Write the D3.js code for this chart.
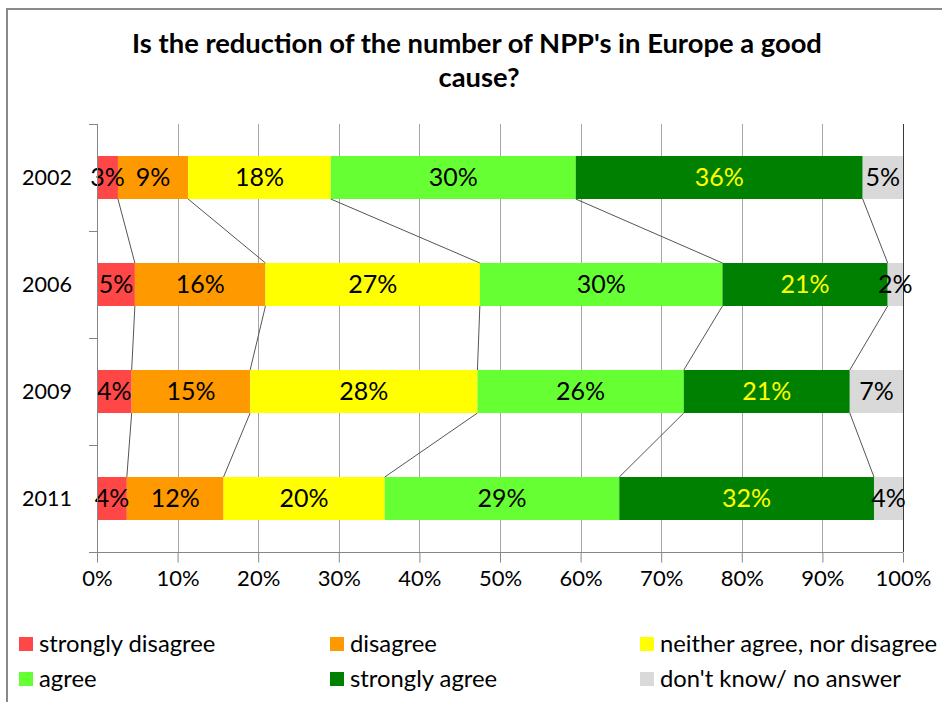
<!DOCTYPE html>
<html>
<head>
<meta charset="utf-8">
<script src="https://cdn.jsdelivr.net/npm/d3@7"></script>
<style>
  html, body { margin: 0; padding: 0; background: #fff; }
  svg { display: block; }
  text { font-family: Lato, "Open Sans", sans-serif; fill: #000; }
</style>
</head>
<body>
<svg id="chart" width="942" height="702"></svg>
<script>
// Survey: "Is the reduction of the number of NPP's in Europe a good cause?"
const years = ["2002", "2006", "2009", "2011"];
const answers = ["strongly disagree", "disagree", "neither agree, nor disagree",
                 "agree", "strongly agree", "don't know/ no answer"];
// share of answers per year, in percent
const stronglyDisagree = [2.6, 4.7, 4.3, 3.7];
const disagree         = [8.7, 16.2, 14.7, 12.0];
const neither          = [17.7, 26.6, 28.2, 20.0];
const agree            = [30.4, 30.1, 25.6, 29.1];
const stronglyAgree    = [35.6, 20.5, 20.6, 31.6];
const dontKnow         = [5.0, 1.9, 6.6, 3.6];
const xTicks = [0, 10, 20, 30, 40, 50, 60, 70, 80, 90, 100];

const seriesValues = [stronglyDisagree, disagree, neither, agree, stronglyAgree, dontKnow];
const colors = ["#FF4747", "#FF9900", "#FFFF00", "#66FF33", "#008000", "#D9D9D9"];
const labelColors = ["#000", "#000", "#000", "#000", "#FFFF00", "#000"];

const rows = years.map((y, i) => {
  const r = { year: y };
  answers.forEach((a, k) => { r[a] = seriesValues[k][i]; });
  return r;
});

const svg = d3.select("#chart");

// outer frame
svg.append("rect")
  .attr("x", 7).attr("y", 9).attr("width", 1000).attr("height", 1000)
  .attr("fill", "none").attr("stroke", "#898989").attr("stroke-width", 2);

// title
const title = svg.append("g");
const titleLines = ["Is the reduction of the number of NPP's in Europe a good", "cause?"];
const t1 = title.append("text").attr("x", 477).attr("y", 53)
  .attr("text-anchor", "middle").attr("font-weight", "bold").attr("font-size", 24)
  .text(titleLines[0]);
const t2 = title.append("text").attr("x", 479).attr("y", 87)
  .attr("text-anchor", "middle").attr("font-weight", "bold").attr("font-size", 24)
  .text(titleLines[1]);
const fitSize = 24 * 690 / t1.node().getComputedTextLength();
t1.attr("font-size", fitSize);
t2.attr("font-size", fitSize);

const x = d3.scaleLinear().domain([0, 100]).range([97, 903]);
const y = d3.scaleBand().domain(years).range([124, 552]).padding(0);
const barH = 43;
const barOff = (y.bandwidth() - barH) / 2;

// vertical gridlines
svg.append("g").selectAll("line").data(xTicks.filter(d => d > 0))
  .join("line")
  .attr("x1", d => Math.round(x(d)) + 0.5).attr("x2", d => Math.round(x(d)) + 0.5)
  .attr("y1", 124).attr("y2", 552)
  .attr("stroke", d => d === 100 ? "#3a3a3a" : "#A6A6A6").attr("stroke-width", 1);

// stacked bars
const stack = d3.stack().keys(answers)(rows);

const layers = svg.append("g").selectAll("g").data(stack).join("g")
  .attr("fill", (d, k) => colors[k]);
layers.selectAll("rect").data(d => d).join("rect")
  .attr("x", d => x(d[0]))
  .attr("width", d => x(d[1]) - x(d[0]))
  .attr("y", d => y(d.data.year) + barOff)
  .attr("height", barH);

// series lines between neighbouring bars
const seriesLines = svg.append("g").attr("stroke", "#555").attr("stroke-width", 1).attr("fill", "none");
stack.slice(0, answers.length - 1).forEach(layer => {
  for (let i = 0; i < layer.length - 1; i++) {
    const a = layer[i], b = layer[i + 1];
    seriesLines.append("line")
      .attr("x1", x(a[1])).attr("y1", y(a.data.year) + barOff + barH)
      .attr("x2", x(b[1])).attr("y2", y(b.data.year) + barOff);
  }
});

// data labels
const fmt = v => d3.format(".0f")(v) + "%";
stack.forEach((layer, k) => {
  svg.append("g").selectAll("text").data(layer).join("text")
    .attr("x", d => (x(d[0]) + x(d[1])) / 2)
    .attr("y", d => y(d.data.year) + y.bandwidth() / 2 + 8.5)
    .attr("text-anchor", "middle")
    .attr("font-size", 25)
    .style("fill", labelColors[k])
    .text(d => fmt(d[1] - d[0]));
});

// y axis
const yAxis = svg.append("g");
yAxis.append("line").attr("x1", 97.5).attr("x2", 97.5).attr("y1", 124).attr("y2", 552)
  .attr("stroke", "#868686");
const bounds = years.map(d => y(d)).concat([y(years[years.length - 1]) + y.bandwidth()]);
yAxis.selectAll("line.tick").data(bounds).join("line").attr("class", "tick")
  .attr("x1", 89).attr("x2", 97.5).attr("y1", d => Math.round(d) + 0.5).attr("y2", d => Math.round(d) + 0.5)
  .attr("stroke", "#868686");
yAxis.selectAll("text").data(years).join("text")
  .attr("x", 72).attr("y", d => y(d) + y.bandwidth() / 2 + 7.5)
  .attr("text-anchor", "end").attr("font-size", 21.5)
  .text(d => d);

// x axis
const xAxis = svg.append("g").attr("transform", "translate(0,552.5)")
  .call(d3.axisBottom(x).tickValues(xTicks).tickSize(10).tickSizeOuter(0).tickFormat(d => d + "%"));
xAxis.select(".domain").attr("stroke", "#868686").attr("d", "M89,0H903");
xAxis.selectAll(".tick line").attr("stroke", "#868686");
xAxis.selectAll(".tick text").attr("font-size", 22).attr("font-family", "Lato, sans-serif")
  .attr("fill", "#000").attr("y", 26).attr("dy", "0.71em").attr("transform", "translate(0,-8)");

// legend
const legendPos = [[19, 637], [330, 637], [640, 637], [19, 672], [330, 672], [640, 672]];
const legend = svg.append("g").selectAll("g").data(answers).join("g")
  .attr("transform", (d, k) => `translate(${legendPos[k][0]},${legendPos[k][1]})`);
legend.append("rect").attr("width", 14).attr("height", 14).attr("fill", (d, k) => colors[k]);
legend.append("text").attr("x", 20).attr("y", 15).attr("font-size", 23.8).text(d => d);
</script>
</body>
</html>
